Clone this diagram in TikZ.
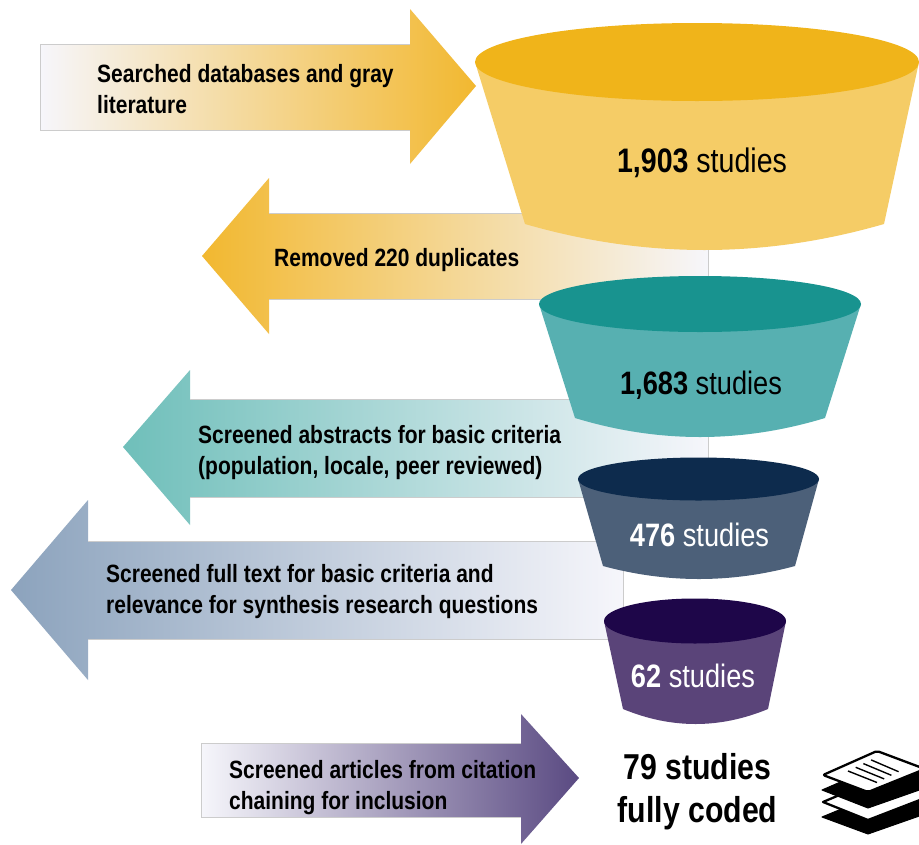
\documentclass[tikz,border=0pt]{standalone}
\usepackage{fontspec}
\setmainfont[FakeStretch=0.84]{Liberation Sans}
\definecolor{goldtop}{HTML}{F0B41A}
\definecolor{goldbody}{HTML}{F5CC66}
\definecolor{tealtop}{HTML}{18938F}
\definecolor{tealbody}{HTML}{57B0B1}
\definecolor{navytop}{HTML}{0D2B4D}
\definecolor{navybody}{HTML}{4C6079}
\definecolor{plumtop}{HTML}{1E0649}
\definecolor{plumbody}{HTML}{5A4479}
\definecolor{pale}{HTML}{F6F6FB}
\definecolor{arrowgold}{HTML}{F2B830}
\definecolor{arrowteal}{HTML}{6FBFBA}
\definecolor{arrowblue}{HTML}{8CA3BD}
\definecolor{arrowplum}{HTML}{5A4A82}
\tikzset{
  x=1pt,y=-1pt,
  bodyedge/.style={draw=black!20,line width=.6pt},
  steptext/.style={anchor=west,align=left,inner sep=0pt,font=\fontsize{25}{31.5}\selectfont\bfseries,text=black},
  counttext/.style={anchor=center,inner sep=0pt},
  sheet/.style={draw=black,fill=white,line width=2.3pt,line join=round},
  slab/.style={fill=black,draw=black,line width=1pt,line join=round}
}
% #1 ellipse centre x, #2 ellipse centre y, #3 rx, #4 ry, #5 lower-left x, #6 lower-right x, #7 corner y, #8 lowest y, #9 colours
\newcommand{\funnelcup}[9]{%
  \fill[#9body] (#1-#3,#2)
    -- (#5,#7)
    .. controls ({#5+(#6-#5)/3},{#7+(#8-#7)*4/3}) and ({#6-(#6-#5)/3},{#7+(#8-#7)*4/3}) .. (#6,#7)
    -- (#1+#3,#2) -- cycle;
  \fill[#9top] (#1,#2) ellipse [x radius=#3,y radius=#4];
}
\begin{document}
\begin{tikzpicture}
\clip (0,0) rectangle (919,844);
\fill[white] (0,0) rectangle (919,844);
% arrows
\shade[left color=pale,right color=arrowgold]
  (40,44) -- (410,44) -- (410,9) -- (476,86) -- (410,164) -- (410,130) -- (40,130) -- cycle;
\draw[bodyedge] (410,44) -- (40,44) -- (40,130) -- (410,130);
\shade[left color=arrowgold,right color=pale]
  (708,213) -- (269,213) -- (269,178) -- (202,256) -- (269,334) -- (269,299) -- (708,299) -- cycle;
\draw[bodyedge] (269,213) -- (708,213) -- (708,299) -- (269,299);
\shade[left color=arrowteal,right color=pale]
  (708,399) -- (190,399) -- (190,370) -- (123,447) -- (190,525) -- (190,497) -- (708,497) -- cycle;
\draw[bodyedge] (190,399) -- (708,399) -- (708,497) -- (190,497);
\shade[left color=arrowblue,right color=pale]
  (623,541) -- (88,541) -- (88,500) -- (11,590) -- (88,680) -- (88,639) -- (623,639) -- cycle;
\draw[bodyedge] (88,541) -- (623,541) -- (623,639) -- (88,639);
\shade[left color=pale,right color=arrowplum]
  (201,743) -- (521,743) -- (521,714) -- (579,778) -- (521,844) -- (521,817) -- (201,817) -- cycle;
\draw[bodyedge] (521,743) -- (201,743) -- (201,817) -- (521,817);
% funnels
\funnelcup{697}{62}{222}{39}{525}{884}{224}{250}{gold}
\funnelcup{700}{304}{161}{28}{575}{825}{418}{437}{teal}
\funnelcup{698.5}{479}{120.5}{21.5}{603}{795}{566}{579}{navy}
\funnelcup{695}{621}{91}{22.5}{623}{768}{709}{724}{plum}
% step labels
\node[steptext] (searched) at (97,89) {Searched databases and gray\\literature};
\node[steptext] (removed) at (274,260.5) {Removed 220 duplicates};
\node[steptext] (abstracts) at (198,452.5) {Screened abstracts for basic criteria\\(population, locale, peer reviewed)};
\node[steptext] (fulltext) at (106,591.5) {Screened full text for basic criteria and\\relevance for synthesis research questions};
\node[steptext] (citation) at (229,787.5) {Screened articles from citation\\chaining for inclusion};
% counts
\node[counttext,font=\fontsize{34}{36}\selectfont] (n1903) at (702,163) {\textbf{1,903} studies};
\node[counttext,font=\fontsize{32.4}{34}\selectfont] (n1683) at (701,385) {\textbf{1,683} studies};
\node[counttext,font=\fontsize{32.4}{34}\selectfont,text=white] (n476) at (699.5,535) {\textbf{476} studies};
\node[counttext,font=\fontsize{32.4}{34}\selectfont,text=white] (n62) at (693,676) {\textbf{62} studies};
\node[counttext,align=center,font=\fontsize{36}{43}\selectfont\bfseries] (coded) at (697.5,792) {79 studies\\fully coded};
% stack icon
\path[slab] (822,817) -- (868,798) -- (925,798) -- (925,814) -- (868,834) -- cycle;
\path[sheet] (823,802) -- (870,782) -- (925,790) -- (925,798) -- (868,820) -- cycle;
\path[slab] (822,790) -- (868,770) -- (925,772) -- (925,788) -- (868,808) -- cycle;
\path[sheet,rounded corners=2pt] (823,775) -- (877,751) -- (925,769) -- (868,792) -- cycle;
\foreach \i in {0,1,2,3} {
  \draw[black,line width=1.4pt] ({848+\i*7.7},{771-\i*3.7}) -- ({877+\i*7.2},{782.5-\i*3.6});
}
\end{tikzpicture}
\end{document}
